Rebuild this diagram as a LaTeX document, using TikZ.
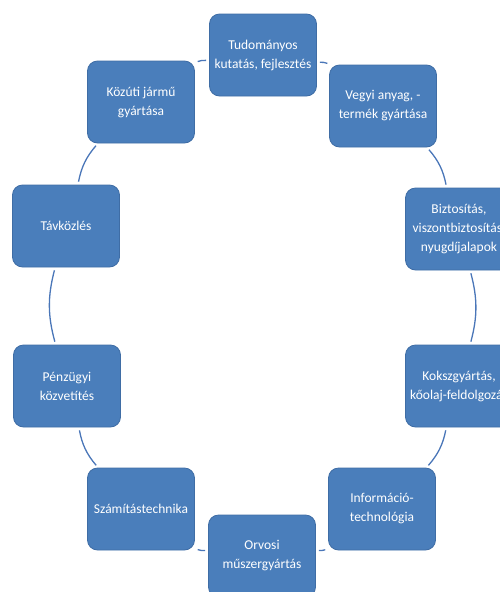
\documentclass[tikz,border=0pt]{standalone}
\usepackage{fontspec}
\setmainfont{Carlito}
\definecolor{boxblue}{HTML}{4A7EBB}
\definecolor{boxedge}{HTML}{3F6DA5}
\definecolor{linkblue}{HTML}{4A76B8}
\begin{document}
\begin{tikzpicture}[x=1pt,y=-1pt,
  cyclebox/.style={rectangle, rounded corners=10pt, fill=boxblue, draw=boxedge, line width=0.8pt,
    minimum width=107pt, minimum height=82pt, inner sep=2pt, text=white, align=center,
    font=\fontsize{13.5}{19}\selectfont},
  link/.style={draw=linkblue, line width=1.3pt, shorten <=3pt, shorten >=3pt, bend left=15}]
\useasboundingbox (0,0) rectangle (500,592);
\node[cyclebox] (n1) at (263,55) {Tudományos\\kutatás, fejlesztés};
\node[cyclebox] (n2) at (383,106) {Vegyi anyag, -\\termék gyártása};
\node[cyclebox] (n3) at (459,229) {Biztosítás,\\viszontbiztosítás,\\nyugdíjalapok};
\node[cyclebox] (n4) at (459,386) {Kokszgyártás,\\kőolaj-feldolgozás};
\node[cyclebox] (n5) at (382,509) {Információ-\\technológia};
\node[cyclebox] (n6) at (262,556) {Orvosi\\műszergyártás};
\node[cyclebox] (n7) at (141,509) {Számítástechnika};
\node[cyclebox] (n8) at (67,386) {Pénzügyi\\közvetítés};
\node[cyclebox] (n9) at (66,226) {Távközlés};
\node[cyclebox] (n10) at (141,102) {Közúti jármű\\gyártása};
\draw[link] (n1) to (n2);
\draw[link] (n2) to (n3);
\draw[link] (n3) to (n4);
\draw[link] (n4) to (n5);
\draw[link] (n5) to (n6);
\draw[link] (n6) to (n7);
\draw[link] (n7) to (n8);
\draw[link] (n8) to (n9);
\draw[link] (n9) to (n10);
\draw[link] (n10) to (n1);
\end{tikzpicture}
\end{document}
